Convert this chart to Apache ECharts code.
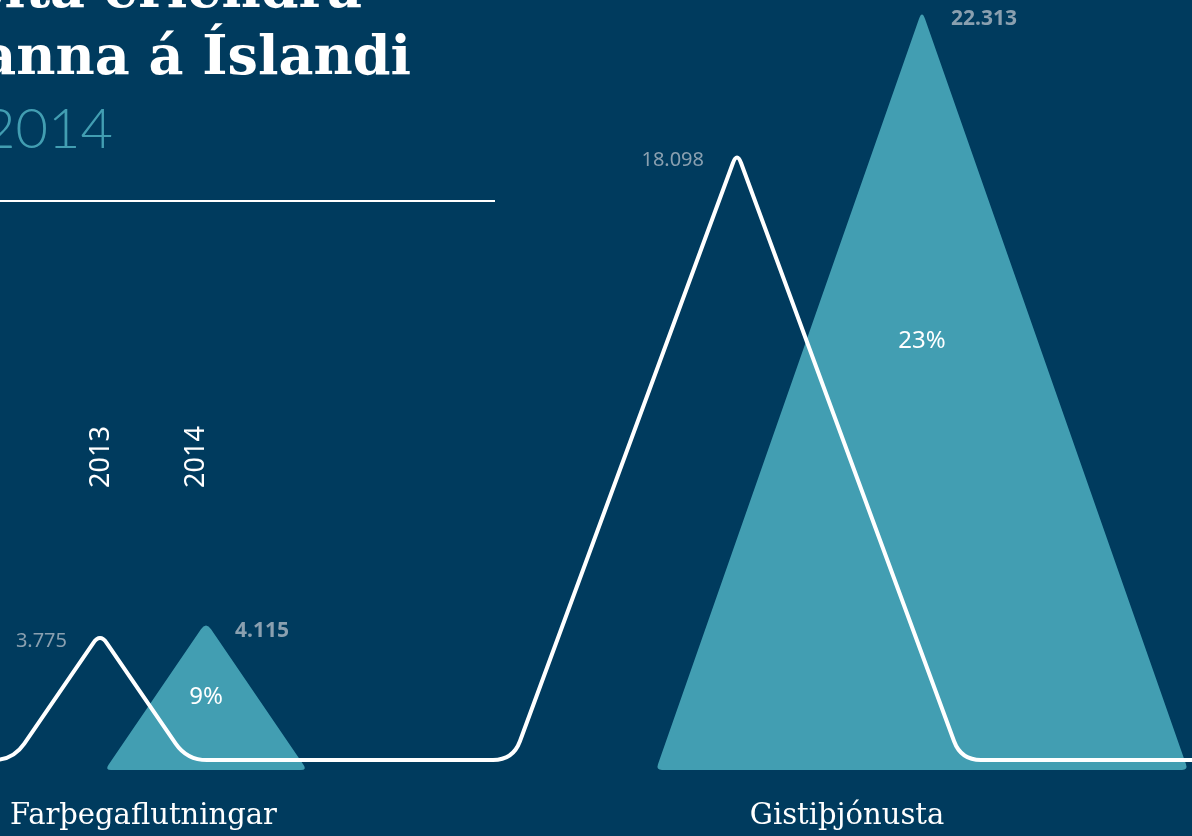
<!DOCTYPE html>
<html>
<head>
<meta charset="utf-8">
<script src="https://cdn.jsdelivr.net/npm/echarts@6/dist/echarts.min.js"></script>
<style>
    html, body { margin: 0; padding: 0; background: #003b5e; }
    #chart { width: 1192px; height: 836px; }
</style>
</head>
<body>
<div id="chart"></div>
<script>
// gögn
const categories = ['Farþegaflutningar', 'Gistiþjónusta'];
const years = ['2013', '2014'];
const values2013 = [3775, 18098];
const values2014 = [4115, 22313];

// uppsetning (pixlar á x-ás 0..1192)
const panels = [[-30, 412], [412, 1230]];
const lineCenters = [100, 737];
const lineHalf = [87, 224];
const triCenters = [206, 922];
const triHalf = [101, 266];
const triSink = 10;
const pctFrac = [0.49, 0.565];
const catLabelX = [10, 847];
const catLabelAlign = ['left', 'center'];

const navy = '#003b5e';
const teal = '#429eb2';
const grey = '#8aa0b0';

const fmt = v => String(v).replace(/\B(?=(\d{3})+(?!\d))/g, '.');

// slóð með ávölum hornum
function roundedPath (pts, radii, closed) {
    const n = pts.length;
    const corner = (i) => {
        const p = pts[i];
        const a = pts[(i - 1 + n) % n];
        const b = pts[(i + 1) % n];
        const d1 = Math.hypot(a[0] - p[0], a[1] - p[1]);
        const d2 = Math.hypot(b[0] - p[0], b[1] - p[1]);
        const r = Math.min(radii[i], d1 / 2, d2 / 2);
        return [
            [p[0] + (a[0] - p[0]) * r / d1, p[1] + (a[1] - p[1]) * r / d1],
            [p[0] + (b[0] - p[0]) * r / d2, p[1] + (b[1] - p[1]) * r / d2]
        ];
    };
    let d = '';
    if (closed) {
        const c0 = corner(0);
        d += 'M' + c0[1][0] + ',' + c0[1][1];
        for (let i = 1; i < n; i++) {
            const c = corner(i);
            d += 'L' + c[0][0] + ',' + c[0][1] + 'Q' + pts[i][0] + ',' + pts[i][1] + ' ' + c[1][0] + ',' + c[1][1];
        }
        d += 'L' + c0[0][0] + ',' + c0[0][1] + 'Q' + pts[0][0] + ',' + pts[0][1] + ' ' + c0[1][0] + ',' + c0[1][1] + 'Z';
    } else {
        d += 'M' + pts[0][0] + ',' + pts[0][1];
        for (let i = 1; i < n - 1; i++) {
            const c = corner(i);
            d += 'L' + c[0][0] + ',' + c[0][1] + 'Q' + pts[i][0] + ',' + pts[i][1] + ' ' + c[1][0] + ',' + c[1][1];
        }
        d += 'L' + pts[n - 1][0] + ',' + pts[n - 1][1];
    }
    return d;
}

const seriesData = categories.map((c, i) => [i, values2013[i], values2014[i]]);

function renderTriangle (params, api) {
    const i = api.value(0);
    const v = api.value(2);
    const v13 = api.value(1);
    const apex = api.coord([triCenters[i], v]);
    const by = api.coord([triCenters[i], 0])[1] + triSink;
    const lx = api.coord([triCenters[i] - triHalf[i], 0])[0];
    const rx = api.coord([triCenters[i] + triHalf[i], 0])[0];
    const pts = [[lx, by], apex, [rx, by]];
    const pct = Math.round((v - v13) / v13 * 100) + '%';
    return {
        type: 'group',
        children: [
            {
                type: 'path',
                shape: { pathData: roundedPath(pts, [6, 9, 6], true) },
                style: { fill: teal }
            },
            {
                type: 'text',
                style: {
                    text: pct, x: apex[0], y: by - (by - apex[1]) * pctFrac[i],
                    fill: '#ffffff', fontSize: 24, fontFamily: 'Noto Sans',
                    align: 'center', verticalAlign: 'middle'
                }
            },
            {
                type: 'text',
                style: {
                    text: fmt(v), x: apex[0] + 29, y: apex[1] + 9,
                    fill: grey, fontSize: 21, fontWeight: 'bold', fontFamily: 'Noto Sans',
                    align: 'left', verticalAlign: 'middle'
                }
            }
        ]
    };
}

function renderLine (params, api) {
    const i = api.value(0);
    const v = api.value(1);
    const c = lineCenters[i];
    const h = lineHalf[i];
    const y0 = api.coord([c, 0])[1];
    const peak = api.coord([c, v]);
    const pts = [
        [api.coord([panels[i][0], 0])[0], y0],
        [api.coord([c - h, 0])[0], y0],
        peak,
        [api.coord([c + h, 0])[0], y0],
        [api.coord([panels[i][1], 0])[0], y0]
    ];
    return {
        type: 'group',
        children: [
            {
                type: 'path',
                shape: { pathData: roundedPath(pts, [0, 20, 12, 20, 0], false) },
                style: { fill: null, stroke: '#ffffff', lineWidth: 4 }
            },
            {
                type: 'text',
                style: {
                    text: fmt(v), x: peak[0] - 33, y: peak[1] + 8,
                    fill: grey, fontSize: 20, fontFamily: 'Noto Sans',
                    align: 'right', verticalAlign: 'middle'
                }
            }
        ]
    };
}

const graphic = [
    {
        type: 'text', x: 362, y: -7,
        style: { text: 'Kortavelta erlendra', fill: '#fff', fontSize: 54, fontWeight: 'bold', fontFamily: 'DejaVu Serif', align: 'right', verticalAlign: 'middle' }
    },
    {
        type: 'text', x: 411, y: 60,
        style: { text: 'ferðamanna á Íslandi', fill: '#fff', fontSize: 54, fontWeight: 'bold', fontFamily: 'DejaVu Serif', align: 'right', verticalAlign: 'middle' }
    },
    {
        type: 'text', x: 113, y: 130,
        style: { text: '2014', fill: teal, fontSize: 56, fontWeight: 300, fontFamily: 'Lato', align: 'right', verticalAlign: 'middle' }
    },
    {
        type: 'line',
        shape: { x1: 0, y1: 201, x2: 495, y2: 201 },
        style: { stroke: '#fff', lineWidth: 2 }
    }
];
years.forEach((y, k) => {
    graphic.push({
        type: 'text', x: [101, 196][k], y: 457, rotation: Math.PI / 2,
        style: { text: y, fill: '#fff', fontSize: 27, fontFamily: 'Noto Sans', align: 'center', verticalAlign: 'middle' }
    });
});
categories.forEach((c, i) => {
    graphic.push({
        type: 'text', x: catLabelX[i], y: 816,
        style: { text: c, fill: '#fff', fontSize: 29, fontFamily: 'DejaVu Serif', align: catLabelAlign[i], verticalAlign: 'middle' }
    });
});

const chart = echarts.init(document.getElementById('chart'));
chart.setOption({
    backgroundColor: navy,
    animation: false,
    grid: { left: 0, right: 0, top: 0, bottom: 76 },
    xAxis: { type: 'value', min: 0, max: 1192, show: false },
    yAxis: { type: 'value', min: 0, max: 22620, show: false },
    series: [
        { name: years[1], type: 'custom', renderItem: renderTriangle, data: seriesData, z: 1 },
        { name: years[0], type: 'custom', renderItem: renderLine, data: seriesData, z: 2 }
    ],
    graphic: graphic
});
</script>
</body>
</html>
